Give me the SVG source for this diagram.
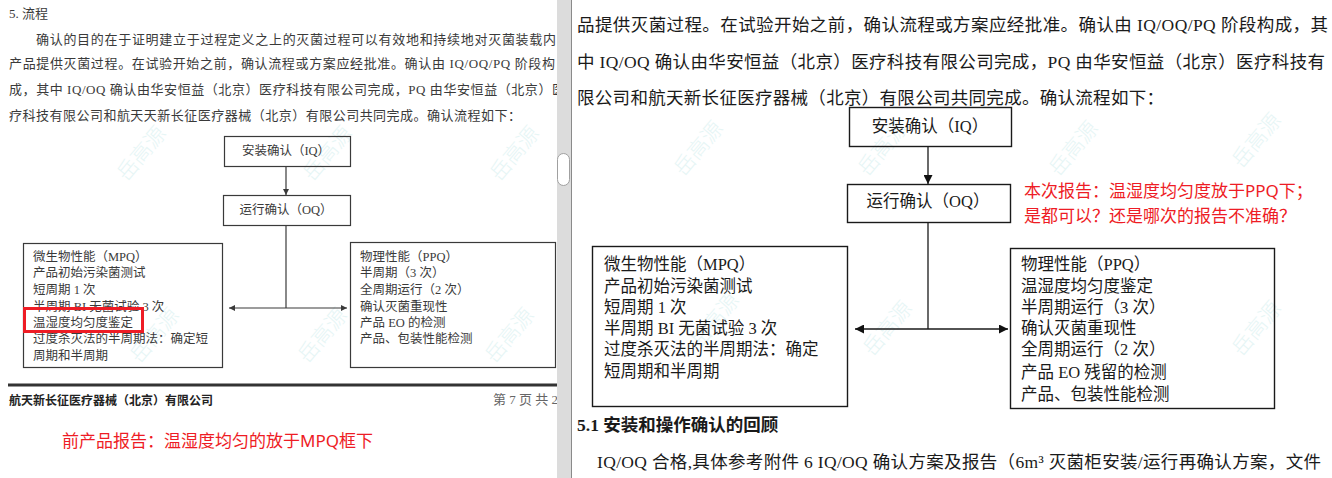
<svg xmlns="http://www.w3.org/2000/svg" width="1332" height="478" viewBox="0 0 1332 478">
<style>
.lt{font-family:"Liberation Serif","Noto Sans CJK SC",serif;font-size:13px;fill:#3a3a3a;dominant-baseline:central}
.lb{font-family:"Liberation Serif","Noto Sans CJK SC",serif;font-size:12.5px;fill:#3a3a3a;dominant-baseline:central}
.rt{font-family:"Liberation Serif","Noto Sans CJK SC",serif;font-size:17.5px;fill:#1a1a1a;dominant-baseline:central}
.rb{font-family:"Liberation Serif","Noto Sans CJK SC",serif;font-size:16.5px;fill:#1a1a1a;dominant-baseline:central}
.red{font-family:"Noto Sans","Noto Sans CJK SC",sans-serif;font-size:17px;fill:#ee1c25;dominant-baseline:central}
.wm{font-family:"Noto Sans CJK SC",sans-serif;font-size:21px;font-weight:300;fill:#d6f0f0;opacity:0.6}
.lbox{fill:none;stroke:#3a3a3a;stroke-width:1.2}
.rbox{fill:none;stroke:#1a1a1a;stroke-width:1.4}
.lc{fill:none;stroke:#3a3a3a;stroke-width:1.2}
.rc{fill:none;stroke:#1a1a1a;stroke-width:1.3}
</style>
<defs>
<marker id="al" viewBox="0 0 10 10" refX="10" refY="5" markerWidth="6" markerHeight="6" markerUnits="userSpaceOnUse" orient="auto-start-reverse"><path d="M0,0L10,5L0,10z" fill="#3a3a3a"/></marker>
<marker id="ar" viewBox="0 0 10 10" refX="10" refY="5" markerWidth="9" markerHeight="9" markerUnits="userSpaceOnUse" orient="auto-start-reverse"><path d="M0,0L10,5L0,10z" fill="#111"/></marker>
</defs>
<rect x="0" y="0" width="1332" height="478" fill="#ffffff"/>

<g id="watermarks">
<text class="wm" transform="translate(147,158) rotate(-50)" text-anchor="middle">岳高源</text>
<text class="wm" transform="translate(333,158) rotate(-50)" text-anchor="middle">岳高源</text>
<text class="wm" transform="translate(520,158) rotate(-50)" text-anchor="middle">岳高源</text>
<text class="wm" transform="translate(160,340) rotate(-50)" text-anchor="middle">岳高源</text>
<text class="wm" transform="translate(328,340) rotate(-50)" text-anchor="middle">岳高源</text>
<text class="wm" transform="translate(515,340) rotate(-50)" text-anchor="middle">岳高源</text>
<text class="wm" transform="translate(704,153) rotate(-50)" text-anchor="middle">岳高源</text>
<text class="wm" transform="translate(888,153) rotate(-50)" text-anchor="middle">岳高源</text>
<text class="wm" transform="translate(1079,153) rotate(-50)" text-anchor="middle">岳高源</text>
<text class="wm" transform="translate(1262,145) rotate(-50)" text-anchor="middle">岳高源</text>
<text class="wm" transform="translate(720,325) rotate(-50)" text-anchor="middle">岳高源</text>
<text class="wm" transform="translate(893,333) rotate(-50)" text-anchor="middle">岳高源</text>
<text class="wm" transform="translate(1262,333) rotate(-50)" text-anchor="middle">岳高源</text>
</g>

<g id="left-text">
<text class="lt" x="9" y="13">5. 流程</text>
<text class="lt" x="36" y="39" textLength="520" lengthAdjust="spacing">确认的目的在于证明建立于过程定义之上的灭菌过程可以有效地和持续地对灭菌装载内</text>
<text class="lt" x="9" y="63" textLength="546" lengthAdjust="spacing">产品提供灭菌过程。在试验开始之前，确认流程或方案应经批准。确认由 IQ/OQ/PQ 阶段构</text>
<text class="lt" x="9" y="89" textLength="556" lengthAdjust="spacing">成，其中 IQ/OQ 确认由华安恒益（北京）医疗科技有限公司完成，PQ 由华安恒益（北京）医</text>
<text class="lt" x="9" y="115" textLength="512" lengthAdjust="spacing">疗科技有限公司和航天天新长征医疗器械（北京）有限公司共同完成。确认流程如下：</text>
</g>

<g id="connectors-left">
<line class="lc" x1="286" y1="166" x2="286" y2="195" marker-end="url(#al)"/>
<line class="lc" x1="286" y1="225" x2="286" y2="308"/>
<line class="lc" x1="229" y1="308" x2="347" y2="308" marker-start="url(#al)" marker-end="url(#al)"/>
</g>

<g id="L-IQ">
<rect class="lbox" x="224.5" y="136.5" width="126" height="30"/>
<text class="lb" x="286" y="151" text-anchor="middle">安装确认（IQ）</text>
</g>
<g id="L-OQ">
<rect class="lbox" x="223.5" y="195.5" width="127" height="30"/>
<text class="lb" x="286" y="210" text-anchor="middle">运行确认（OQ）</text>
</g>
<g id="L-MPQ">
<rect class="lbox" x="23.5" y="243.5" width="199" height="124"/>
<text class="lb" x="33" y="257">微生物性能（MPQ）</text>
<text class="lb" x="33" y="273">产品初始污染菌测试</text>
<text class="lb" x="33" y="290">短周期 1 次</text>
<text class="lb" x="33" y="307">半周期 BI 无菌试验 3 次</text>
<text class="lb" x="33" y="323">温湿度均匀度鉴定</text>
<text class="lb" x="33" y="339">过度杀灭法的半周期法：确定短</text>
<text class="lb" x="33" y="356">周期和半周期</text>
<rect x="24.5" y="308.5" width="118" height="23" fill="none" stroke="#ee1c25" stroke-width="3"/>
</g>
<g id="L-PPQ">
<rect class="lbox" x="350.5" y="242.5" width="205" height="125"/>
<text class="lb" x="360" y="257">物理性能（PPQ）</text>
<text class="lb" x="360" y="273">半周期（3 次）</text>
<text class="lb" x="360" y="290">全周期运行（2 次）</text>
<text class="lb" x="360" y="307">确认灭菌重现性</text>
<text class="lb" x="360" y="323">产品 EO 的检测</text>
<text class="lb" x="360" y="339">产品、包装性能检测</text>
</g>

<g id="left-footer">
<line x1="8" y1="385" x2="557" y2="385" stroke="#333" stroke-width="3"/>
<text x="9" y="399" font-family="'Noto Sans CJK SC',sans-serif" font-size="12" font-weight="bold" fill="#222" dominant-baseline="central">航天新长征医疗器械（北京）有限公司</text>
<text x="493" y="399" font-family="'Liberation Serif','Noto Sans CJK SC',serif" font-size="13" fill="#666" dominant-baseline="central">第 7 页 共 2</text>
</g>
<text class="red" x="62" y="440">前产品报告：温湿度均匀的放于MPQ框下</text>

<rect x="557" y="0" width="14" height="478" fill="#dcdcdc"/>
<rect x="557.5" y="153.5" width="12" height="32" rx="6" fill="#ffffff" stroke="#a0a0a0"/>
<line x1="571.5" y1="0" x2="571.5" y2="478" stroke="#8a8a8a" stroke-width="1"/>

<g id="right-text">
<text class="rt" x="577" y="25" textLength="751" lengthAdjust="spacing">品提供灭菌过程。在试验开始之前，确认流程或方案应经批准。确认由 IQ/OQ/PQ 阶段构成，其</text>
<text class="rt" x="577" y="62" textLength="748" lengthAdjust="spacing">中 IQ/OQ 确认由华安恒益（北京）医疗科技有限公司完成，PQ 由华安恒益（北京）医疗科技有</text>
<text class="rt" x="577" y="98" textLength="587" lengthAdjust="spacing">限公司和航天新长征医疗器械（北京）有限公司共同完成。确认流程如下：</text>
<text class="rt" x="577" y="425" font-weight="bold">5.1 安装和操作确认的回顾</text>
<text class="rt" x="597" y="462" textLength="724" lengthAdjust="spacing">IQ/OQ 合格,具体参考附件 6 IQ/OQ 确认方案及报告（6m³ 灭菌柜安装/运行再确认方案，文件</text>
</g>

<g id="connectors-right">
<line class="rc" x1="928" y1="146" x2="928" y2="184" marker-end="url(#ar)"/>
<line class="rc" x1="928" y1="222" x2="928" y2="329"/>
<line class="rc" x1="855" y1="329" x2="1008" y2="329" marker-start="url(#ar)" marker-end="url(#ar)"/>
</g>

<g id="R-IQ">
<rect class="rbox" x="849.5" y="107.5" width="162" height="39"/>
<text class="rb" x="930" y="126" text-anchor="middle">安装确认（IQ）</text>
</g>
<g id="R-OQ">
<rect class="rbox" x="847.5" y="184.5" width="163" height="38"/>
<text class="rb" x="928" y="201" text-anchor="middle">运行确认（OQ）</text>
</g>
<g id="R-MPQ">
<rect class="rbox" x="592.5" y="246.5" width="255" height="160"/>
<text class="rb" x="604" y="264">微生物性能（MPQ）</text>
<text class="rb" x="604" y="286">产品初始污染菌测试</text>
<text class="rb" x="604" y="307">短周期 1 次</text>
<text class="rb" x="604" y="328">半周期 BI 无菌试验 3 次</text>
<text class="rb" x="604" y="349">过度杀灭法的半周期法：确定</text>
<text class="rb" x="604" y="371">短周期和半周期</text>
</g>
<g id="R-PPQ">
<rect class="rbox" x="1010.5" y="248.5" width="264" height="160"/>
<text class="rb" x="1021" y="264">物理性能（PPQ）</text>
<text class="rb" x="1021" y="286">温湿度均匀度鉴定</text>
<text class="rb" x="1021" y="307">半周期运行（3 次）</text>
<text class="rb" x="1021" y="328">确认灭菌重现性</text>
<text class="rb" x="1021" y="349">全周期运行（2 次）</text>
<text class="rb" x="1021" y="372">产品 EO 残留的检测</text>
<text class="rb" x="1021" y="394">产品、包装性能检测</text>
</g>

<g id="R-note">
<text class="red" x="1024" y="190">本次报告：温湿度均匀度放于PPQ下；</text>
<text class="red" x="1024" y="215">是都可以？还是哪次的报告不准确？</text>
</g>
</svg>
